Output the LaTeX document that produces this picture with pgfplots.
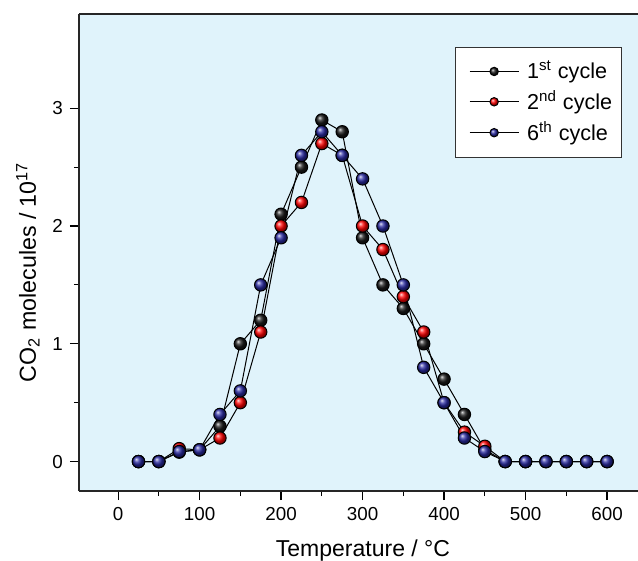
\documentclass[border=0pt]{standalone}
\usepackage{pgfplots}
\pgfplotsset{compat=1.18}
\usepackage{fontspec}
\setmainfont{Liberation Sans}
\definecolor{bg}{RGB}{224,243,251}
\definecolor{ballblue}{RGB}{40,40,160}
\pgfdeclareplotmark{bblack}{\shade[ball color=black!90] (0pt,0pt) circle (\pgfplotmarksize);}
\pgfdeclareplotmark{bred}{\shade[ball color=red] (0pt,0pt) circle (\pgfplotmarksize);}
\pgfdeclareplotmark{bblue}{\shade[ball color=ballblue] (0pt,0pt) circle (\pgfplotmarksize);}
\begin{document}
\begin{tikzpicture}
\begin{axis}[
  scale only axis, width=279.5pt, height=238.5pt,
  xmin=-48, xmax=638, ymin=-0.25, ymax=3.8,
  axis background/.style={fill=bg},
  axis x line*=box, axis y line*=left,
  tick pos=left,
  tick align=outside,
  major tick length=4.5pt, minor tick length=2.5pt,
  minor x tick num=1, minor y tick num=1,
  xtick={0,100,...,600}, ytick={0,1,2,3},
  every tick/.style={black, line width=0.6pt},
  axis line style={line width=0.8pt, black!85},
  ticklabel style={font=\fontsize{9.4}{11}\selectfont},
  /pgf/number format/assume math mode=true,
  xlabel={Temperature / °C},
  ylabel={CO\textsubscript{2} molecules / 10\textsuperscript{17}},
  every axis x label/.style={at={([yshift=-32.5pt]axis description cs:0.508,0)}, anchor=base, font=\fontsize{11.5}{14}\selectfont},
  every axis y label/.style={at={([xshift=-21.5pt]axis description cs:0,0.459)}, rotate=90, anchor=base, font=\fontsize{11.6}{14}\selectfont},
  legend style={at={(0.971,0.931)}, anchor=north east, draw=black!80, fill=white, line width=0.6pt,
    font=\fontsize{10.8}{13}\selectfont, inner xsep=4.5pt, inner ysep=6.8pt, row sep=4.5pt,
    column sep=4pt, nodes={inner sep=0pt}},
  legend cell align=left,
  legend image code/.code={\path (-2.5pt,0pt);\draw[#1, mark repeat=2, mark phase=2, mark size=2.1pt] plot coordinates {(0pt,0pt) (12.25pt,0pt) (24.5pt,0pt)};},
]
\coordinate (SW) at (rel axis cs:0,0);
\coordinate (NE) at (rel axis cs:1,1);
\addplot[black, line width=0.5pt, mark=bblack, mark size=3.1pt] coordinates {
(25,0) (50,0) (75,0.08) (100,0.1) (125,0.3) (150,1.0) (175,1.2) (200,2.1) (225,2.5) (250,2.9)
(275,2.8) (300,1.9) (325,1.5) (350,1.3) (375,1.0) (400,0.7) (425,0.4) (450,0.1) (475,0) (500,0)
(525,0) (550,0) (575,0) (600,0)};
\addlegendentry{1\textsuperscript{st} cycle}
\addplot[black, line width=0.5pt, mark=bred, mark size=3.1pt] coordinates {
(25,0) (50,0) (75,0.11) (100,0.1) (125,0.2) (150,0.5) (175,1.1) (200,2.0) (225,2.2) (250,2.7)
(275,2.6) (300,2.0) (325,1.8) (350,1.4) (375,1.1) (400,0.5) (425,0.25) (450,0.13) (475,0) (500,0)
(525,0) (550,0) (575,0) (600,0)};
\addlegendentry{2\textsuperscript{nd} cycle}
\addplot[black, line width=0.5pt, mark=bblue, mark size=3.1pt] coordinates {
(25,0) (50,0) (75,0.085) (100,0.1) (125,0.4) (150,0.6) (175,1.5) (200,1.9) (225,2.6) (250,2.8)
(275,2.6) (300,2.4) (325,2.0) (350,1.5) (375,0.8) (400,0.5) (425,0.2) (450,0.085) (475,0) (500,0)
(525,0) (550,0) (575,0) (600,0)};
\addlegendentry{6\textsuperscript{th} cycle}
\end{axis}
\pgfresetboundingbox
\path ([xshift=-39.5pt,yshift=-34.5pt]SW) rectangle ([yshift=7pt]NE);
\end{tikzpicture}
\end{document}
